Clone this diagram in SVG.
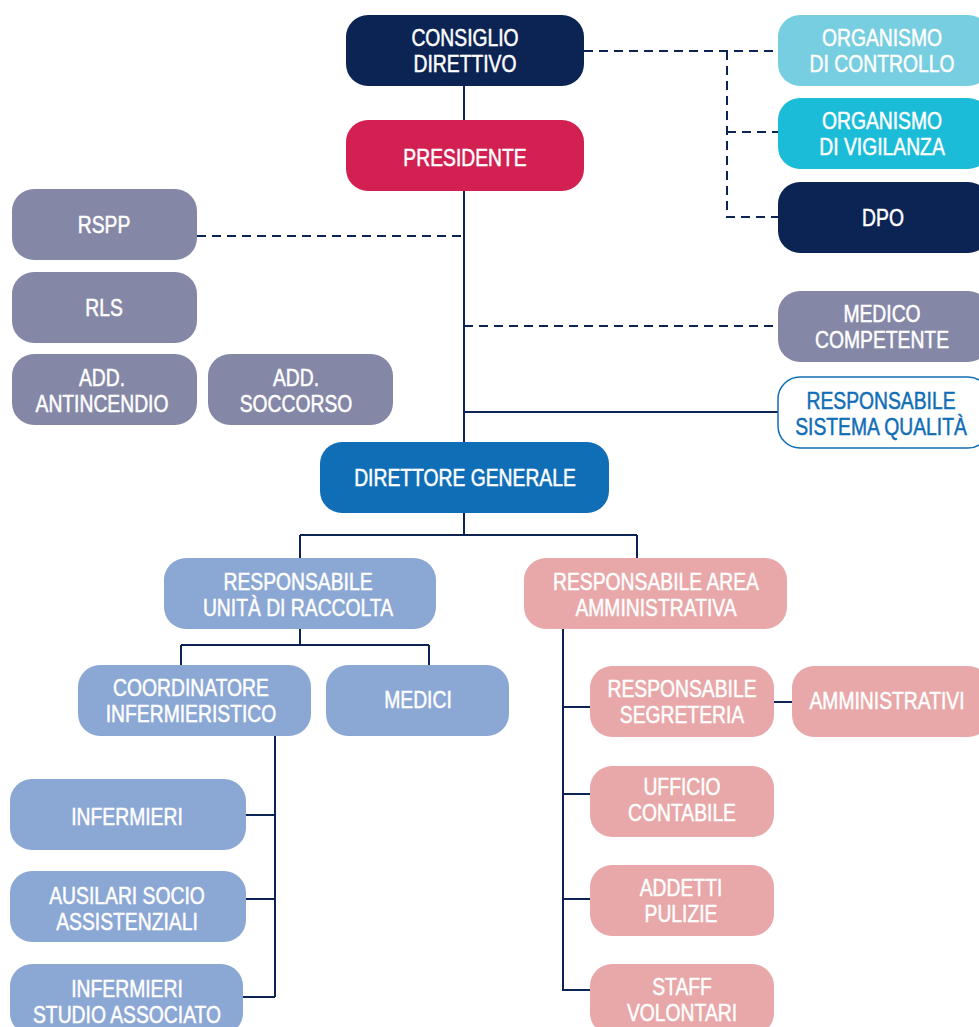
<svg xmlns="http://www.w3.org/2000/svg" width="979" height="1027" viewBox="0 0 979 1027">
<style>
.navy{fill:#0C2454}
.red{fill:#D22052}
.lcy{fill:#76CEE0}
.cy{fill:#1BBCD8}
.gr{fill:#8587A6}
.bl{fill:#106EB7}
.lb{fill:#8BA7D4}
.pk{fill:#E8A7A8}
.wh{fill:#FFFFFF;stroke:#106EB7;stroke-width:1.5}
text{font-family:"Liberation Sans",Arial,sans-serif;font-size:23px;fill:#FFFFFF;stroke:#FFFFFF;stroke-width:0.5;text-anchor:middle}
text.bt{fill:#106EB7;stroke:#106EB7}
.c path{fill:none;stroke:#0C2454;stroke-width:2}
.c path.d{stroke-dasharray:9 6}
</style>
<rect width="979" height="1027" fill="#FFFFFF"/>
<g class="c" id="connectors">
<path d="M464,86V120"/>
<path d="M464,191V442"/>
<path d="M464,412H778"/>
<path d="M464,513V535"/>
<path d="M300,535H637"/>
<path d="M300,535V558"/>
<path d="M637,535V558"/>
<path d="M300,629V645"/>
<path d="M181,645H429"/>
<path d="M181,645V665"/>
<path d="M429,645V665"/>
<path d="M275,736V997"/>
<path d="M246,815H275"/>
<path d="M246,899H275"/>
<path d="M243,997H275"/>
<path d="M563,629V990H590"/>
<path d="M563,707H590"/>
<path d="M563,794H590"/>
<path d="M563,899H590"/>
<path d="M774,702H792"/>
<path class="d" d="M584,51H778"/>
<path class="d" d="M727,51V217H778"/>
<path class="d" d="M727,132H778"/>
<path class="d" d="M197,236H464"/>
<path class="d" d="M464,326H778"/>
</g>
<g id="consiglio"><rect class="navy" x="346" y="15" width="238" height="71" rx="22"/><text transform="matrix(.84 0 0 1 465 46)">CONSIGLIO</text><text transform="matrix(.84 0 0 1 465 72)">DIRETTIVO</text></g>
<g id="presidente"><rect class="red" x="346" y="120" width="238" height="71" rx="22"/><text transform="matrix(.84 0 0 1 465 166)">PRESIDENTE</text></g>
<g id="org-controllo"><rect class="lcy" x="778" y="15" width="212" height="71" rx="22"/><text transform="matrix(.84 0 0 1 882 46)">ORGANISMO</text><text transform="matrix(.84 0 0 1 882 72)">DI CONTROLLO</text></g>
<g id="org-vigilanza"><rect class="cy" x="778" y="98" width="212" height="71" rx="22"/><text transform="matrix(.84 0 0 1 882 129)">ORGANISMO</text><text transform="matrix(.84 0 0 1 882 155)">DI VIGILANZA</text></g>
<g id="dpo"><rect class="navy" x="778" y="182" width="212" height="71" rx="22"/><text transform="matrix(.84 0 0 1 883 226)">DPO</text></g>
<g id="rspp"><rect class="gr" x="12" y="189" width="185" height="71" rx="22"/><text transform="matrix(.84 0 0 1 104 233)">RSPP</text></g>
<g id="rls"><rect class="gr" x="12" y="272" width="185" height="71" rx="22"/><text transform="matrix(.84 0 0 1 104 316)">RLS</text></g>
<g id="antincendio"><rect class="gr" x="12" y="354" width="185" height="71" rx="22"/><text transform="matrix(.84 0 0 1 102 386)">ADD.</text><text transform="matrix(.84 0 0 1 102 412)">ANTINCENDIO</text></g>
<g id="soccorso"><rect class="gr" x="208" y="354" width="185" height="71" rx="22"/><text transform="matrix(.84 0 0 1 296 386)">ADD.</text><text transform="matrix(.84 0 0 1 296 412)">SOCCORSO</text></g>
<g id="medico"><rect class="gr" x="778" y="291" width="212" height="71" rx="22"/><text transform="matrix(.84 0 0 1 882 322)">MEDICO</text><text transform="matrix(.84 0 0 1 882 348)">COMPETENTE</text></g>
<g id="qualita"><rect class="wh" x="778" y="377" width="212" height="71" rx="22"/><text class="bt" transform="matrix(.84 0 0 1 881 409)">RESPONSABILE</text><text class="bt" transform="matrix(.84 0 0 1 881 435)">SISTEMA QUALITÀ</text></g>
<g id="direttore"><rect class="bl" x="320" y="442" width="289" height="71" rx="22"/><text transform="matrix(.84 0 0 1 465 486)">DIRETTORE GENERALE</text></g>
<g id="unita-raccolta"><rect class="lb" x="164" y="558" width="272" height="71" rx="22"/><text transform="matrix(.84 0 0 1 298 590)">RESPONSABILE</text><text transform="matrix(.84 0 0 1 298 616)">UNITÀ DI RACCOLTA</text></g>
<g id="area-amm"><rect class="pk" x="524" y="558" width="263" height="71" rx="22"/><text transform="matrix(.84 0 0 1 656 590)">RESPONSABILE AREA</text><text transform="matrix(.84 0 0 1 656 616)">AMMINISTRATIVA</text></g>
<g id="coordinatore"><rect class="lb" x="78" y="665" width="233" height="71" rx="22"/><text transform="matrix(.84 0 0 1 191 696)">COORDINATORE</text><text transform="matrix(.84 0 0 1 191 722)">INFERMIERISTICO</text></g>
<g id="medici"><rect class="lb" x="326" y="665" width="183" height="71" rx="22"/><text transform="matrix(.84 0 0 1 418 708)">MEDICI</text></g>
<g id="segreteria"><rect class="pk" x="590" y="666" width="184" height="71" rx="22"/><text transform="matrix(.84 0 0 1 682 697)">RESPONSABILE</text><text transform="matrix(.84 0 0 1 682 723)">SEGRETERIA</text></g>
<g id="amministrativi"><rect class="pk" x="792" y="666" width="198" height="71" rx="22"/><text transform="matrix(.84 0 0 1 887 709)">AMMINISTRATIVI</text></g>
<g id="infermieri"><rect class="lb" x="10" y="779" width="236" height="71" rx="22"/><text transform="matrix(.84 0 0 1 127 825)">INFERMIERI</text></g>
<g id="ausilari"><rect class="lb" x="10" y="871" width="236" height="71" rx="22"/><text transform="matrix(.84 0 0 1 127 904)">AUSILARI SOCIO</text><text transform="matrix(.84 0 0 1 127 930)">ASSISTENZIALI</text></g>
<g id="studio-associato"><rect class="lb" x="10" y="964" width="233" height="71" rx="22"/><text transform="matrix(.84 0 0 1 127 997)">INFERMIERI</text><text transform="matrix(.84 0 0 1 127 1023)">STUDIO ASSOCIATO</text></g>
<g id="contabile"><rect class="pk" x="590" y="766" width="184" height="71" rx="22"/><text transform="matrix(.84 0 0 1 682 795)">UFFICIO</text><text transform="matrix(.84 0 0 1 682 821)">CONTABILE</text></g>
<g id="pulizie"><rect class="pk" x="590" y="865" width="184" height="71" rx="22"/><text transform="matrix(.84 0 0 1 681 896)">ADDETTI</text><text transform="matrix(.84 0 0 1 681 922)">PULIZIE</text></g>
<g id="staff"><rect class="pk" x="590" y="964" width="184" height="71" rx="22"/><text transform="matrix(.84 0 0 1 682 995)">STAFF</text><text transform="matrix(.84 0 0 1 682 1021)">VOLONTARI</text></g>
</svg>
